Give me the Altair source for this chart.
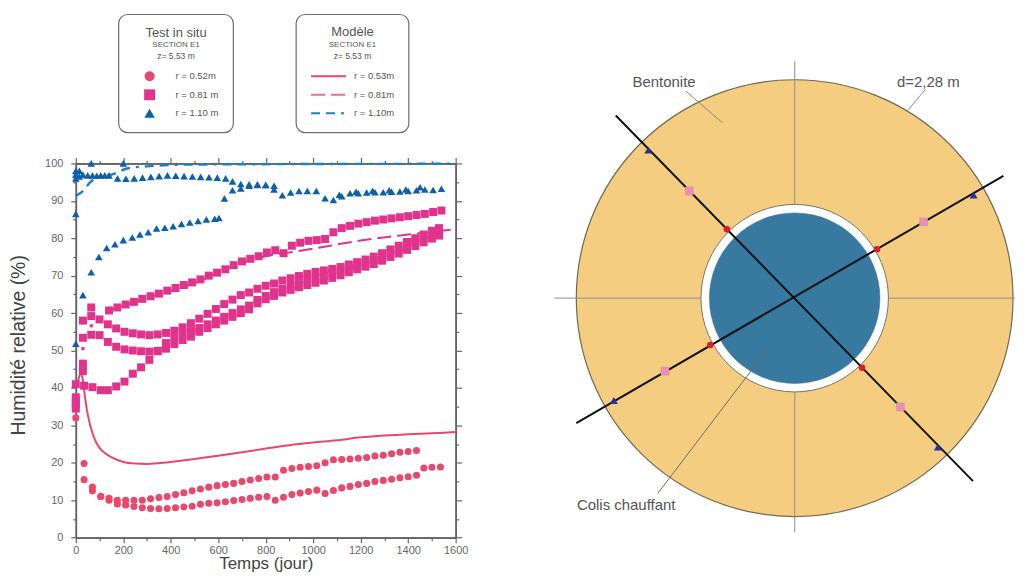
import altair as alt
import pandas as pd

# ---------- measured series (t in days, v in % RH) ----------
red_u_t = [35,70,105,140,175,210,245,280,315,350,385,420,455,490,525,560,595,630,665,700,735,770,805,840,875,910,945,980,1015,1050,1085,1120,1155,1190,1225,1260,1295,1330,1365,1400,1435]
red_u_v = [19.8,13.5,11,10.5,10,10,10,10,10.4,10.7,11,11.5,12,12.5,13,13.5,13.9,14.2,14.5,15,15.4,15.8,16.2,16.2,18,18.5,18.8,19,19.2,20,20.8,20.9,21,21.2,21.4,21.8,22,22.4,22.8,23,23.3]
red_l_t = [0,35,70,105,140,175,210,245,280,315,350,385,420,455,490,525,560,595,630,665,700,735,770,805,840,875,910,945,980,1015,1050,1085,1120,1155,1190,1225,1260,1295,1330,1365,1400,1435,1466,1500,1536]
red_l_v = [32,15.5,12.5,11,10,9,8.7,8.3,8,7.8,7.7,7.8,8,8.2,8.4,8.9,9.2,9.3,9.6,9.9,10.2,10.5,10.8,11,10,10.8,11.5,11.9,12.3,12.7,11.8,12.6,13.3,13.7,14.2,14.5,15,15.3,15.6,16,16.3,16.7,18.6,18.8,18.9]
red_m_t = [0,10,20,30,40,50,75,100,125,150,200,250,300,400,500,600,700,800,900,1000,1100,1200,1300,1400,1500,1600]
red_m_v = [40,42,44,42,37,33,27,24,22.5,21.5,20.2,19.8,19.7,20.2,21,21.9,22.8,23.8,24.7,25.4,26,26.8,27.3,27.6,27.9,28.2]

pink_a_t = [140,175,210,245,280,315,350,385,420,455,490,525,560,595,630,665,700,735,770,805,840,875,910,945,980,1015,1050,1085,1120,1155,1190,1225,1260,1295,1330,1365,1400,1435,1470,1505,1540]
pink_a_v = [60.7,61.5,62.3,63,63.8,64.5,65.2,66,66.7,67.5,68.2,69,70,70.8,71.7,72.8,73.8,74.5,75.2,76.2,76.8,76,78,78.8,79.3,79.5,79.8,81.6,82.7,83.3,83.9,84.3,84.7,85,85.3,85.6,85.9,86.2,86.5,87,87.4]
pink_b_t = [30,65,65,100,135,170,205,240,275,310,345,380,415,450,485,520,555,590,625,660,695,730,765,800,835,870,905,940,975,1010,1045,1080,1115,1150,1185,1220,1255,1290,1325,1360,1395,1430,1465,1500,1530]
pink_b_v = [58,59.2,61.5,58.3,57,55.9,55,54.6,54.3,54.1,54.3,54.7,55.3,56.2,57.3,58.5,59.8,61.1,62.4,63.6,64.8,65.5,66.5,67.3,67.9,68.7,69.3,69.9,70.5,71,71.4,71.8,72.3,73,73.6,74.3,75.1,76,77,78,79,80,81,82,82.7]
pink_c_t = [30,65,100,135,170,205,240,275,310,345,380,415,450,485,520,555,590,625,660,695,730,765,800,835,870,905,940,975,1010,1045,1080,1115,1150,1185,1220,1255,1290,1325,1360,1395,1430,1465,1500,1530]
pink_c_v = [53.4,54.2,54.1,52.3,51,50.3,50,49.8,49.7,49.9,50.5,51.7,52.8,53.7,55,56,57,58,59,60,61,62.6,63.7,64.6,65.5,66.2,66.9,67.5,68.1,68.7,69.4,70.1,70.9,71.7,72.4,73.1,74,75,75.9,76.9,77.9,78.9,79.9,80.7]
pink_d_t = [0,0,0,0,0,30,30,35,70,105,135,170,205,240,275,310,345,380,415,450,485,520,555,590,625,660,695,730,765,800,835,870,905,940,975,1010,1045,1080,1115,1150,1185,1220,1255,1290,1325,1360,1395,1430,1465,1500,1530]
pink_d_v = [41,34.5,35.5,36.5,37.5,44.5,46.5,40.6,40.2,39.4,39.4,40.4,41.7,43.8,45.5,47.5,49.8,52,53.5,54.8,55.2,56,57,58,59,60,61,62,63.5,64.6,65.6,66.5,67.3,68.2,69,69.5,70,70.8,71.3,72,72.7,73.4,74.2,75.1,76,77,78,79,80,81,81.8]
pink_s_t = [30,65]
pink_s_v = [50.5,56.6]
pink_m_t = [140,300,500,700,800,900,1000,1200,1400,1600]
pink_m_v = [60.7,64,68,73.5,75.2,76.2,77.2,79.4,81,82.4]

blue_e_t = [0,0,0,15,15,30,50,70,88,105,122,140,176,211,246,281,316,351,386,421,456,491,526,561,596,631,660,695,730,765,800,835,870,905,940,975,1013,1050,1085,1120,1155,1190,1225,1260,1295,1330,1365,1400,1435,1470,1505,1540]
blue_e_v = [96,97,98,96.5,98,97,96.8,96.8,96.7,96.8,96.8,96.8,96,95.9,96,96.2,96.4,96.6,96.8,96.7,96.6,96.5,96.4,96.3,96.2,96,95.2,94.5,94.4,94.2,94.2,93,91.5,92.2,92.6,92.6,92.6,90.7,90.2,91.2,92,92,92.2,92.3,92.3,92.4,92.5,92.6,92.8,93,92.9,93.2]
blue_g_t = [0,30,65,97,130,165,200,238,270,305,340,375,410,445,480,515,550,585,603,626,660,695,730,765,800,835,1110,1180,1250,1320,1390,1450]
blue_g_v = [51.8,64.8,70.9,75,77.4,78.4,79.5,80.2,81,81.6,82.6,82.8,83.2,83.8,84.2,84.6,85,85.2,85.4,90.6,92.8,93.3,94,94.4,94.2,94,91.6,92.4,92.7,92.8,93,93.6]
blue_x_t = [0,65,200]
blue_x_v = [86.5,100,100]
blue_m_t = [0,30,60,100,150,220,300,500,1600]
blue_m_v = [91.3,92.6,94.9,96.5,97,98.7,99.2,99.7,99.9]

major_x = [0,200,400,600,800,1000,1200,1400,1600]
minor_x = [100,300,500,700,900,1100,1300,1500]
major_y = [0,10,20,30,40,50,60,70,80,90,100]
minor_y = [5,15,25,35,45,55,65,75,85,95]

# ---------- section diagram, in metres from the axis ----------
red_dx = [-0.354,0.430,-0.441,0.352]
red_dy = [0.360,0.256,-0.244,-0.363]
pink_dx = [-0.550,0.673,-0.677,0.552]
pink_dy = [0.560,0.398,-0.381,-0.568]
blue_dx = [-0.764,0.934,-0.944,0.748]
blue_dy = [0.773,0.539,-0.534,-0.777]

# ---------- colours ----------
C_RED = "#e8486c"
C_PINK = "#e0348c"
C_BLUE = "#0f5fa8"
C_BLUE_L = "#1c80c4"
C_TXT = "#555555"
C_AX = "#666666"

# ---------- left panel scales ----------
PW, PH = 381, 375.4
xs = alt.Scale(domain=[0,1600], nice=False, zero=False)
ys = alt.Scale(domain=[0,100], nice=False, zero=False)
X = lambda px: (px-76)/PW*1600
Y = lambda py: (537.7-py)/PH*100

def frame(ts, vs):
    return pd.DataFrame({"t": ts, "v": vs})

def pts(ts, vs, shape, color, size):
    return alt.Chart(frame(ts, vs)).mark_point(filled=True, shape=shape, color=color, size=size, opacity=1).encode(
        x=alt.X("t:Q", scale=xs, axis=None), y=alt.Y("v:Q", scale=ys, axis=None))

def line(ts, vs, color, width, dash=None):
    kw = dict(color=color, strokeWidth=width, interpolate="monotone")
    if dash:
        kw["strokeDash"] = dash
    return alt.Chart(frame(ts, vs)).mark_line(**kw).encode(
        x=alt.X("t:Q", scale=xs, axis=None), y=alt.Y("v:Q", scale=ys, axis=None))

def axes(xvals, yvals, xo, yo, size, labels, xtitle=None, ytitle=None):
    common = dict(grid=False, domainColor=C_AX, domainWidth=1.6, tickColor=C_AX, tickWidth=1.2, tickSize=size,
                  labels=labels, labelColor=C_AX, labelFontSize=11, labelFont="Liberation Sans", format="d")
    xa = alt.Axis(values=xvals, orient=xo, title=xtitle, titleFontSize=17, titleFont="Liberation Sans", titleFontWeight="normal",
                  titleColor="#444444", titlePadding=0, labelPadding=2, labelFlush=False, labelOverlap=False, **common)
    ya = alt.Axis(values=yvals, orient=yo, title=ytitle, titleFontSize=19.5, titleFont="Liberation Sans", titleFontWeight="normal",
                  titleColor="#444444", titlePadding=16, titleY=182, labelPadding=8, labelOverlap=False, **common)
    return alt.Chart(frame([0],[0])).mark_point(opacity=0).encode(
        x=alt.X("t:Q", scale=xs, axis=xa), y=alt.Y("v:Q", scale=ys, axis=ya))

def box(x0, x1, y0, y1):
    d = pd.DataFrame({"a":[X(x0)],"b":[X(x1)],"c":[Y(y0)],"d":[Y(y1)]})
    return alt.Chart(d).mark_rect(fill="#ffffff", stroke="#6f6f6f", strokeWidth=1.2, cornerRadius=9).encode(
        x=alt.X("a:Q", scale=xs, axis=None), x2="b:Q", y=alt.Y("c:Q", scale=ys, axis=None), y2="d:Q")

def label(txts, pxs, pys, size, align="center", color=C_TXT):
    d = pd.DataFrame({"s":txts,"x":[X(p) for p in pxs],"y":[Y(p) for p in pys]})
    return alt.Chart(d).mark_text(font="Liberation Sans", fontSize=size, align=align, baseline="middle", color=color).encode(
        x=alt.X("x:Q", scale=xs, axis=None), y=alt.Y("y:Q", scale=ys, axis=None), text="s:N")

def leg_pt(px, py, shape, color, size):
    return pts([X(px)], [Y(py)], shape, color, size)

def leg_line(py, color, dash=None):
    kw = dict(color=color, strokeWidth=2)
    if dash:
        kw["strokeDash"] = dash
    return alt.Chart(frame([X(312),X(347)],[Y(py),Y(py)])).mark_line(**kw).encode(
        x=alt.X("t:Q", scale=xs, axis=None), y=alt.Y("v:Q", scale=ys, axis=None))

DASH_P = [14,6]
DASH_B = [9,6,9,6,3,6]

left = alt.layer(
    axes(major_x, major_y, "bottom", "left", 5, True, "Temps (jour)", "Humidité relative (%)"),
    axes(minor_x, minor_y, "bottom", "left", 3, False),
    axes(major_x, major_y, "top", "right", 6, False),
    axes(minor_x, minor_y, "top", "right", 3, False),
    line(blue_m_t, blue_m_v, C_BLUE_L, 2.4, DASH_B),
    pts(red_u_t, red_u_v, "circle", C_RED, 50),
    pts(red_l_t, red_l_v, "circle", C_RED, 50),
    line(red_m_t, red_m_v, C_RED, 2),
    pts(pink_a_t, pink_a_v, "square", C_PINK, 64),
    pts(pink_b_t, pink_b_v, "square", C_PINK, 64),
    pts(pink_c_t, pink_c_v, "square", C_PINK, 64),
    pts(pink_d_t, pink_d_v, "square", C_PINK, 64),
    pts(pink_s_t, pink_s_v, "square", C_PINK, 10),
    line(pink_m_t, pink_m_v, C_PINK, 2, DASH_P),
    pts(blue_e_t, blue_e_v, "triangle-up", C_BLUE, 58),
    pts(blue_g_t, blue_g_v, "triangle-up", C_BLUE, 58),
    pts(blue_x_t, blue_x_v, "triangle-up", C_BLUE, 58),
    box(119, 234, 13, 131.5),
    box(297, 410, 13, 131.5),
    label(["Test in situ"], [176.5], [32], 13),
    label(["SECTION E1"], [176.5], [44], 8),
    label(["z= 5.53 m"], [176.5], [54.5], 8.5),
    label(["Modèle"], [353.5], [31], 13),
    label(["SECTION E1"], [353.5], [44], 8),
    label(["z= 5.53 m"], [353.5], [55], 8.5),
    label(["r = 0.52m","r = 0.81 m","r = 1.10 m"], [176,176,176], [75,93.5,112], 9.5, "left"),
    label(["r = 0.53m","r = 0.81m","r = 1.10m"], [355,355,355], [75,93.5,112], 9.5, "left"),
    leg_pt(150, 75, "circle", C_RED, 100),
    leg_pt(150, 93.5, "square", C_PINK, 120),
    leg_pt(150, 112, "triangle-up", C_BLUE, 110),
    leg_line(75, C_RED),
    leg_line(93.5, "#ea6aa8", DASH_P),
    leg_line(112, C_BLUE_L, [9,6,9,6,3,6]),
).properties(width=PW, height=PH)

# ---------- right panel: metres ----------
K = 1.14/219
W2 = 462
mx = alt.Scale(domain=[-241*K, 221*K], nice=False, zero=False)
my = alt.Scale(domain=[-240.2*K, 135.2*K], nice=False, zero=False)
ORANGE = "#f5cd80"
DISC = "#37799f"

def seg(x0, y0, x1, y1, color, width, opacity=1):
    return alt.Chart(pd.DataFrame({"a":[x0,x1],"b":[y0,y1]})).mark_line(color=color, strokeWidth=width, opacity=opacity).encode(
        x=alt.X("a:Q", scale=mx, axis=None), y=alt.Y("b:Q", scale=my, axis=None), order="a:Q")

def disk(r_px, fill, stroke, sw):
    return alt.Chart(pd.DataFrame({"a":[0.0],"b":[0.0]})).mark_point(
        filled=True, shape="circle", size=(2*r_px)**2, fill=fill, stroke=stroke, strokeWidth=sw, opacity=1).encode(
        x=alt.X("a:Q", scale=mx, axis=None), y=alt.Y("b:Q", scale=my, axis=None))

def dpts(xs_, ys_, shape, color, size, stroke=None):
    kw = dict(filled=True, shape=shape, color=color, size=size, opacity=1)
    if stroke:
        kw.update(stroke=stroke, strokeWidth=0.6)
    return alt.Chart(pd.DataFrame({"a":xs_,"b":ys_})).mark_point(**kw).encode(
        x=alt.X("a:Q", scale=mx, axis=None), y=alt.Y("b:Q", scale=my, axis=None))

def dtext(s, px, py):
    d = pd.DataFrame({"s":[s],"a":[(px-794)*K],"b":[(297.5-py)*K]})
    return alt.Chart(d).mark_text(font="Liberation Sans", fontSize=15, align="center", baseline="middle", color=C_TXT).encode(
        x=alt.X("a:Q", scale=mx, axis=None), y=alt.Y("b:Q", scale=my, axis=None), text="s:N")

def pxseg(a, b, c, d, color, width, opacity=1):
    return seg((a-794)*K, (297.5-b)*K, (c-794)*K, (297.5-d)*K, color, width, opacity)

right = alt.layer(
    disk(219, ORANGE, "#6e6a55", 1.2),
    seg(-241*K, 0, 221*K, 0, "#8c8c8c", 1.3, 0.75),
    alt.Chart(pd.DataFrame({"a":[0.0,0.0],"b":[237.5*K,-235*K],"o":[0,1]})).mark_line(color="#8c8c8c", strokeWidth=1.3, opacity=0.75).encode(
        x=alt.X("a:Q", scale=mx, axis=None), y=alt.Y("b:Q", scale=my, axis=None), order="o:Q"),
    pxseg(685, 90, 721.7, 121.7, "#8a8a7a", 1),
    pxseg(925, 88.3, 906.7, 110, "#8f8f8f", 1),
    disk(94, "#ffffff", "#77756a", 1),
    disk(85.5, DISC, "#2f6c90", 0.5),
    pxseg(768.3, 346.7, 656.7, 493.3, "#6e6e60", 1),
    seg(-0.934, 0.954, 0.931, -0.955, "#111111", 2),
    seg(-1.140, -0.652, 1.090, 0.638, "#111111", 2),
    dpts(red_dx, red_dy, "circle", "#d81e2a", 42),
    dpts(pink_dx, pink_dy, "square", "#ee8cc0", 64, "#c9a07a"),
    dpts(blue_dx, blue_dy, "triangle-up", "#2a2f9a", 64),
    dtext("Bentonite", 663, 81),
    dtext("d=2,28 m", 928, 81),
    dtext("Colis chauffant", 625, 505),
).properties(width=W2, height=PH)

chart = alt.hconcat(left, right, spacing=83, bounds="full").resolve_axis(x="independent", y="independent").properties(
    background="#ffffff", padding={"left":0,"top":5,"right":0,"bottom":0}
).configure_view(stroke=None)

chart.save("out.html", embed_options={"renderer": "svg", "actions": False})
